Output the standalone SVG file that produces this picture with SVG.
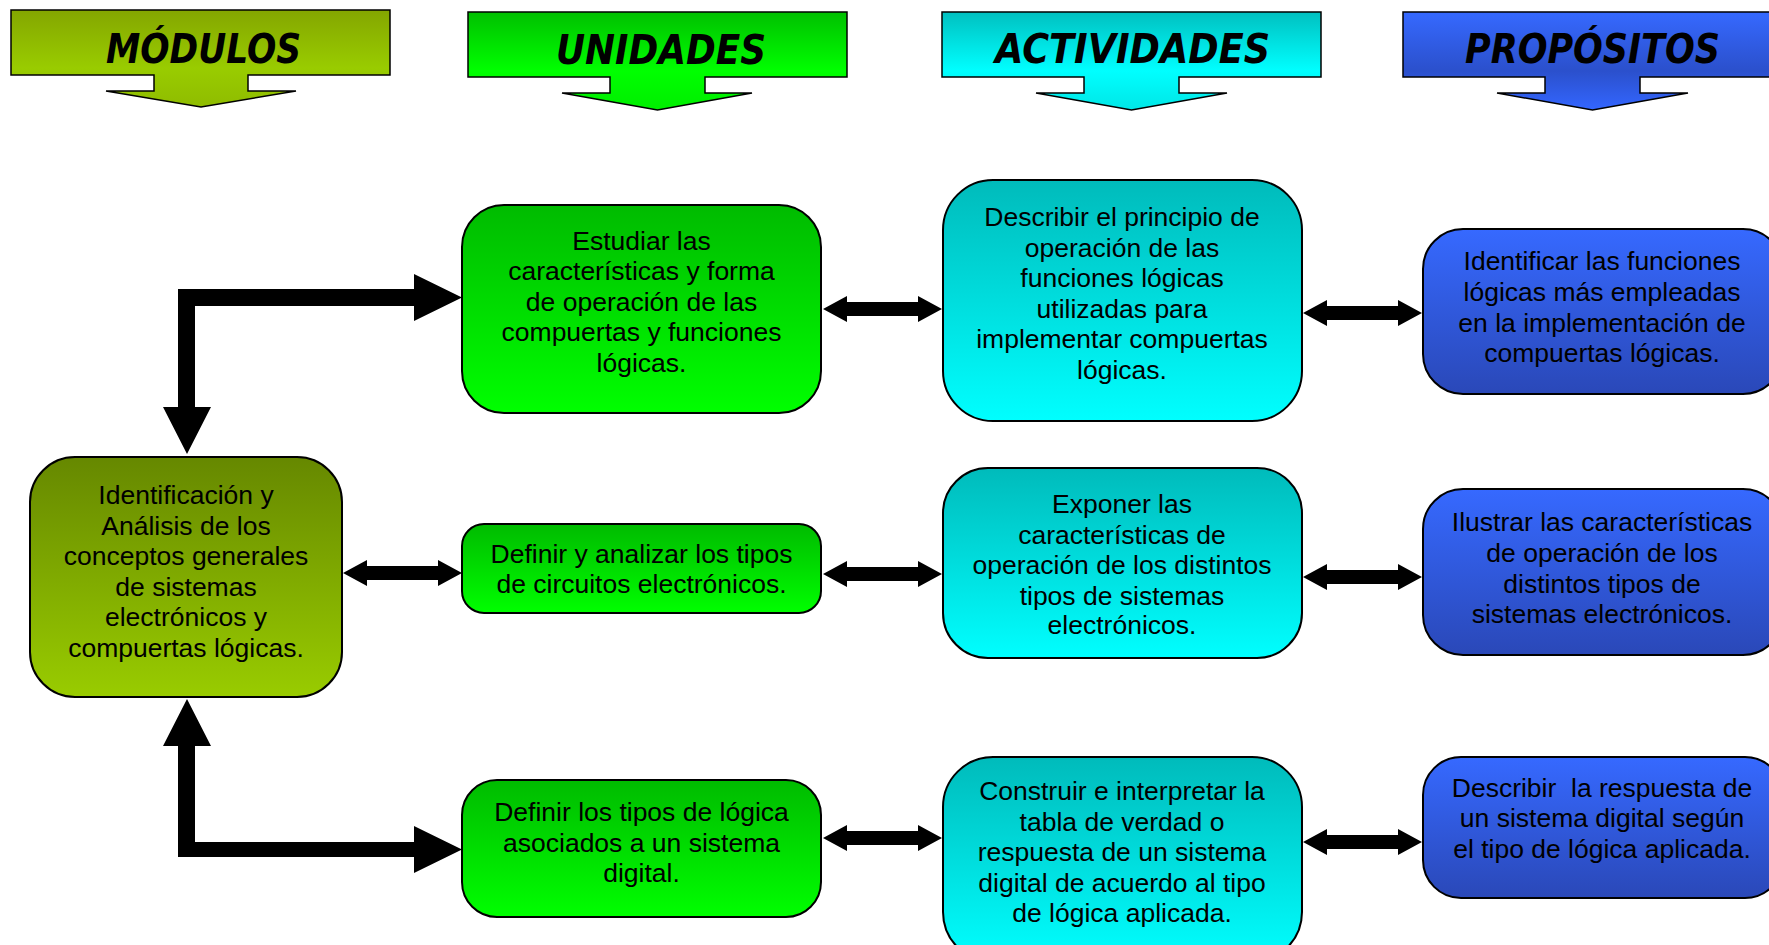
<svg xmlns="http://www.w3.org/2000/svg" width="1769" height="945" viewBox="0 0 1769 945">
<defs>
<linearGradient id="gMod" x1="0" y1="0" x2="0" y2="1"><stop offset="0" stop-color="#668800"/><stop offset="1" stop-color="#99cc00"/></linearGradient>
<linearGradient id="gUni" x1="0" y1="0" x2="0" y2="1"><stop offset="0" stop-color="#00bb00"/><stop offset="1" stop-color="#00ff00"/></linearGradient>
<linearGradient id="gAct" x1="0" y1="0" x2="0" y2="1"><stop offset="0" stop-color="#00bbbb"/><stop offset="1" stop-color="#00ffff"/></linearGradient>
<linearGradient id="gPro" x1="0" y1="0" x2="0" y2="1"><stop offset="0" stop-color="#3669ff"/><stop offset="1" stop-color="#2a48b8"/></linearGradient>
<linearGradient id="hMod" x1="0" y1="0" x2="0" y2="1"><stop offset="0" stop-color="#84a600"/><stop offset="0.6" stop-color="#99cc00"/><stop offset="1" stop-color="#8fbc00"/></linearGradient>
<linearGradient id="hUni" x1="0" y1="0" x2="0" y2="1"><stop offset="0" stop-color="#00c000"/><stop offset="0.6" stop-color="#00ff00"/><stop offset="1" stop-color="#00ee00"/></linearGradient>
<linearGradient id="hAct" x1="0" y1="0" x2="0" y2="1"><stop offset="0" stop-color="#00c0c0"/><stop offset="0.6" stop-color="#00ffff"/><stop offset="1" stop-color="#00e6e6"/></linearGradient>
<linearGradient id="hPro" x1="0" y1="0" x2="0" y2="1"><stop offset="0" stop-color="#3669ff"/><stop offset="0.6" stop-color="#2b50cc"/><stop offset="1" stop-color="#3366ff"/></linearGradient>
</defs>
<style>
.box{stroke:#000;stroke-width:2}
.hdr{stroke:#000;stroke-width:1.5}
.ht{font-family:"DejaVu Sans",sans-serif;font-weight:bold;font-style:italic;font-size:40px;fill:#000;text-anchor:middle}
.t{font-family:"Liberation Sans",Arial,sans-serif;font-size:26.5px;fill:#000;text-anchor:middle}
.arr{fill:#000}
</style>
<rect width="1769" height="945" fill="#fff"/>

<g id="header-modulos">
<path class="hdr" fill="url(#hMod)" d="M11,10 H390 V75 H248 V91 H296 L201,107 L106,91 H154 V75 H11 Z"/>
<text class="ht" x="203.5" y="63" textLength="195" lengthAdjust="spacingAndGlyphs">MÓDULOS</text>
</g>
<g id="header-unidades">
<path class="hdr" fill="url(#hUni)" d="M468,12 H847 V77 H705 V93 H752 L657.5,110 L562,93 H610 V77 H468 Z"/>
<text class="ht" x="661" y="64" textLength="210" lengthAdjust="spacingAndGlyphs">UNIDADES</text>
</g>
<g id="header-actividades">
<path class="hdr" fill="url(#hAct)" d="M942,12 H1321 V77 H1179 V93 H1227 L1131.5,110 L1036,93 H1084 V77 H942 Z"/>
<text class="ht" x="1132.5" y="63" textLength="275" lengthAdjust="spacingAndGlyphs">ACTIVIDADES</text>
</g>
<g id="header-propositos">
<path class="hdr" fill="url(#hPro)" d="M1403,12 H1782 V77 H1640 V93 H1688 L1592.5,110 L1497,93 H1545 V77 H1403 Z"/>
<text class="ht" x="1592.5" y="63" textLength="255" lengthAdjust="spacingAndGlyphs">PROPÓSITOS</text>
</g>

<g id="connectors">
<path class="arr" d="M178,289 H414 V274 L462,297.5 L414,321 V306 H195 V407 H211 L187,454 L163,407 H178 Z"/>
<path class="arr" d="M178,857 H414 V873 L462,849.5 L414,826 V842 H195 V746 H211 L187,699 L163,746 H178 Z"/>
<path class="arr" d="M343,573 L367,560 V566 H438 V560 L462,573 L438,586 V580 H367 V586 Z"/>
<path class="arr" d="M823,309 L847,296 V302 H918 V296 L942,309 L918,322 V316 H847 V322 Z"/>
<path class="arr" d="M1303,313 L1327,300 V306 H1398 V300 L1422,313 L1398,326 V320 H1327 V326 Z"/>
<path class="arr" d="M823,574 L847,561 V567 H918 V561 L942,574 L918,587 V581 H847 V587 Z"/>
<path class="arr" d="M1303,577 L1327,564 V570 H1398 V564 L1422,577 L1398,590 V584 H1327 V590 Z"/>
<path class="arr" d="M823,838 L847,825 V831 H918 V825 L942,838 L918,851 V845 H847 V851 Z"/>
<path class="arr" d="M1303,842 L1327,829 V835 H1398 V829 L1422,842 L1398,855 V849 H1327 V855 Z"/>
</g>

<g id="modulo">
<rect class="box" fill="url(#gMod)" x="30" y="457" width="312" height="240" rx="45" ry="45"/>
<text class="t" x="186" y="504">Identificación y</text>
<text class="t" x="186" y="534.5">Análisis de los</text>
<text class="t" x="186" y="565">conceptos generales</text>
<text class="t" x="186" y="595.5">de sistemas</text>
<text class="t" x="186" y="626">electrónicos y</text>
<text class="t" x="186" y="656.5">compuertas lógicas.</text>
</g>

<g id="unidad-1">
<rect class="box" fill="url(#gUni)" x="462" y="205" width="359" height="208" rx="42" ry="42"/>
<text class="t" x="641.5" y="249.5">Estudiar las</text>
<text class="t" x="641.5" y="280">características y forma</text>
<text class="t" x="641.5" y="310.5">de operación de las</text>
<text class="t" x="641.5" y="341">compuertas y funciones</text>
<text class="t" x="641.5" y="371.5">lógicas.</text>
</g>
<g id="unidad-2">
<rect class="box" fill="url(#gUni)" x="462" y="524" width="359" height="89" rx="22" ry="22"/>
<text class="t" x="641.5" y="563">Definir y analizar los tipos</text>
<text class="t" x="641.5" y="593">de circuitos electrónicos.</text>
</g>
<g id="unidad-3">
<rect class="box" fill="url(#gUni)" x="462" y="780" width="359" height="137" rx="35" ry="35"/>
<text class="t" x="641.5" y="821">Definir los tipos de lógica</text>
<text class="t" x="641.5" y="851.5">asociados a un sistema</text>
<text class="t" x="641.5" y="882">digital.</text>
</g>

<g id="actividad-1">
<rect class="box" fill="url(#gAct)" x="943" y="180" width="359" height="241" rx="50" ry="50"/>
<text class="t" x="1122" y="226">Describir el principio de</text>
<text class="t" x="1122" y="256.5">operación de las</text>
<text class="t" x="1122" y="287">funciones lógicas</text>
<text class="t" x="1122" y="317.5">utilizadas para</text>
<text class="t" x="1122" y="348">implementar compuertas</text>
<text class="t" x="1122" y="378.5">lógicas.</text>
</g>
<g id="actividad-2">
<rect class="box" fill="url(#gAct)" x="943" y="468" width="359" height="190" rx="45" ry="45"/>
<text class="t" x="1122" y="513">Exponer las</text>
<text class="t" x="1122" y="543.5">características de</text>
<text class="t" x="1122" y="574">operación de los distintos</text>
<text class="t" x="1122" y="604.5">tipos de sistemas</text>
<text class="t" x="1122" y="634">electrónicos.</text>
</g>
<g id="actividad-3">
<rect class="box" fill="url(#gAct)" x="943" y="757" width="359" height="205" rx="50" ry="50"/>
<text class="t" x="1122" y="800">Construir e interpretar la</text>
<text class="t" x="1122" y="830.5">tabla de verdad o</text>
<text class="t" x="1122" y="861">respuesta de un sistema</text>
<text class="t" x="1122" y="891.5">digital de acuerdo al tipo</text>
<text class="t" x="1122" y="921.5">de lógica aplicada.</text>
</g>

<g id="proposito-1">
<rect class="box" fill="url(#gPro)" x="1423" y="229" width="360" height="165" rx="40" ry="40"/>
<text class="t" x="1602" y="270">Identificar las funciones</text>
<text class="t" x="1602" y="301">lógicas más empleadas</text>
<text class="t" x="1602" y="331.5">en la implementación de</text>
<text class="t" x="1602" y="362">compuertas lógicas.</text>
</g>
<g id="proposito-2">
<rect class="box" fill="url(#gPro)" x="1423" y="489" width="360" height="166" rx="40" ry="40"/>
<text class="t" x="1602" y="531">Ilustrar las características</text>
<text class="t" x="1602" y="562">de operación de los</text>
<text class="t" x="1602" y="592.5">distintos tipos de</text>
<text class="t" x="1602" y="623">sistemas electrónicos.</text>
</g>
<g id="proposito-3">
<rect class="box" fill="url(#gPro)" x="1423" y="757" width="360" height="141" rx="38" ry="38"/>
<text class="t" x="1602" y="797" xml:space="preserve">Describir  la respuesta de</text>
<text class="t" x="1602" y="827">un sistema digital según</text>
<text class="t" x="1602" y="857.5">el tipo de lógica aplicada.</text>
</g>
</svg>
